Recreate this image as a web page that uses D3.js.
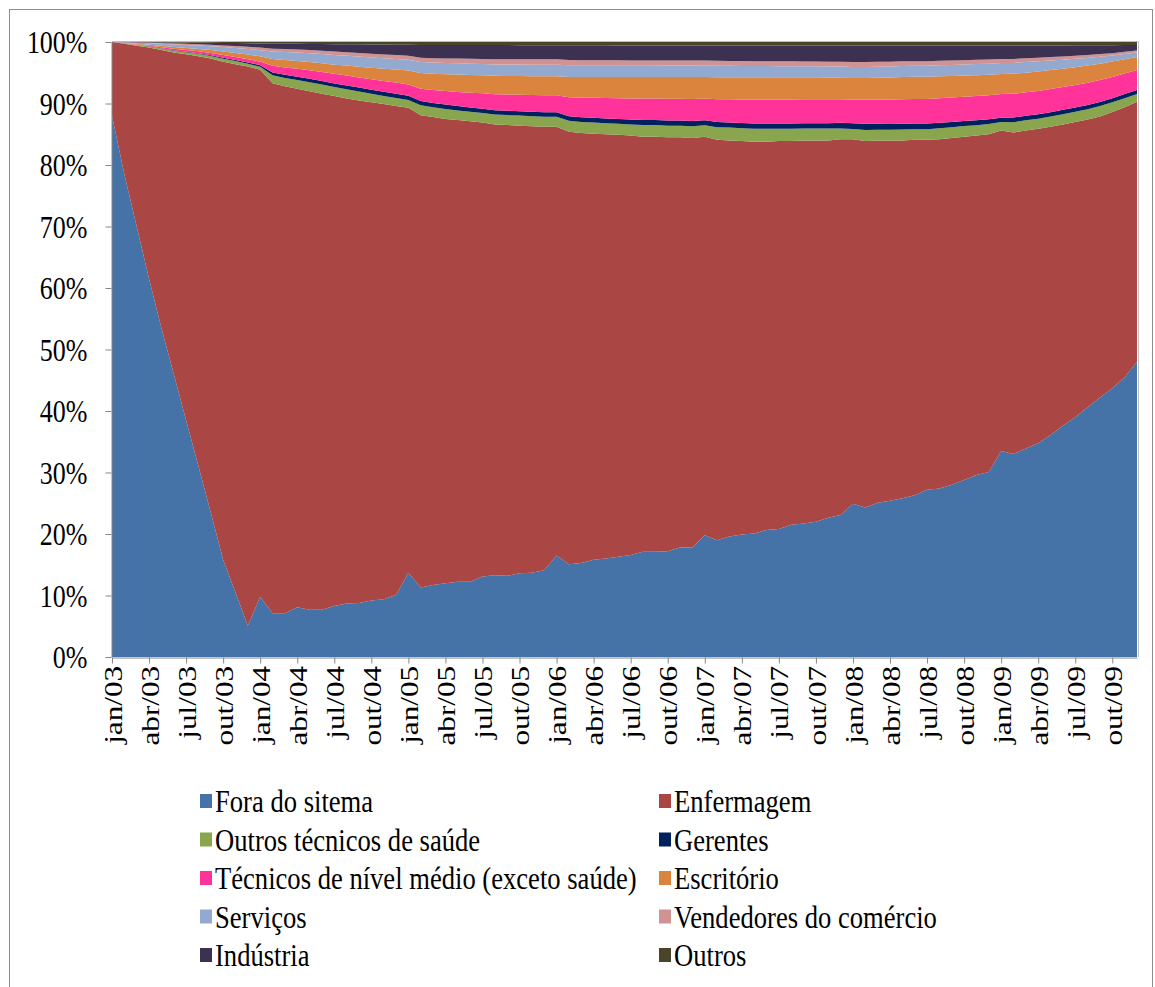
<!DOCTYPE html>
<html>
<head>
<meta charset="utf-8">
<script src="https://cdn.jsdelivr.net/npm/d3@7"></script>
<style>
  body { margin: 0; background: #fff; }
  text { font-family: "Liberation Serif", "Times New Roman", serif; font-size: 26px; fill: #000; }
</style>
</head>
<body>
<svg id="chart" width="1155" height="987"></svg>
<script>
// month labels
var monthNames = ["jan","fev","mar","abr","mai","jun","jul","ago","set","out","nov","dez"];
var years = ["03","04","05","06","07","08","09"];
var yTicks = [0, 0.1, 0.2, 0.3, 0.4, 0.5, 0.6, 0.7, 0.8, 0.9, 1];

// series (percent of total)
var fora = [88,78.5,70,61.5,53.5,46,38.5,31,23.5,15.8,10.5,5.1,
  9.8,7.1,7.1,8.1,7.7,7.7,8.3,8.7,8.8,9.2,9.4,10.1,
  13.7,11.3,11.7,12.0,12.25,12.25,13.1,13.3,13.2,13.6,13.7,14.1,
  16.5,15.1,15.3,15.8,16.0,16.3,16.6,17.1,17.1,17.2,17.8,17.8,
  19.8,19.0,19.6,19.9,20.1,20.65,20.8,21.5,21.7,22.0,22.65,23.1,
  24.9,24.3,25.1,25.4,25.8,26.3,27.2,27.4,28.0,28.8,29.6,30.1,
  33.5,33.0,33.9,34.75,36.1,37.6,39.0,40.6,42.2,43.7,45.5,48.0];
var enfermagem = [12.0,21.2,29.4,37.6,45.2,52.3,59.5,66.7,73.8,81.0,85.9,90.9,
  85.7,86.2,85.7,84.3,84.3,83.9,82.9,82.1,81.7,81.0,80.5,79.5,
  75.6,76.8,76.1,75.5,75.05,74.85,73.8,73.3,73.3,72.8,72.6,72.1,
  69.7,70.3,69.9,69.3,69.0,68.6,68.2,67.5,67.5,67.3,66.7,66.6,
  64.8,65.1,64.4,64.0,63.7,63.15,63.1,62.4,62.3,62.0,61.35,61.1,
  59.3,59.6,58.9,58.6,58.2,57.8,56.9,56.8,56.4,55.8,55.2,54.9,
  52.1,52.3,51.7,51.15,50.1,49.0,48.0,46.8,45.7,44.9,43.9,42.3];
var outrosTec = [0,.05,.1,.15,.23,.29,.33,.37,.43,.49,.51,.48,
  .48,1.29,1.36,1.43,1.46,1.47,1.47,1.52,1.45,1.38,1.33,1.31,
  1.25,1.6,1.6,1.62,1.58,1.55,1.55,1.6,1.61,1.63,1.64,1.65,
  1.65,1.8,1.8,1.8,1.8,1.8,1.8,1.9,1.9,1.9,1.9,1.92,
  1.85,2.05,2.08,2.06,2.08,2.08,1.99,1.99,1.93,1.93,1.92,1.75,
  1.65,1.8,1.74,1.75,1.79,1.73,1.73,1.79,1.75,1.73,1.68,1.65,
  1.4,1.67,1.67,1.63,1.67,1.67,1.66,1.68,1.68,1.59,1.47,1.25];
var gerentes = [0,.01,.03,.04,.06,.08,.1,.11,.13,.16,.18,.2,
  .24,.45,.5,.52,.55,.57,.6,.62,.64,.66,.68,.69,
  .7,.71,.7,.7,.7,.7,.7,.7,.7,.7,.7,.71,
  .71,.72,.75,.77,.78,.78,.8,.8,.8,.82,.82,.83,
  .82,.85,.85,.85,.86,.86,.86,.86,.87,.87,.88,.9,
  .95,1.0,.95,.92,.9,.9,.9,.88,.85,.82,.8,.78,
  .7,.75,.74,.72,.72,.7,.7,.68,.68,.67,.66,.65];
var tecnicos = [0,.04,.08,.12,.17,.22,.26,.3,.35,.42,.47,.52,
  .6,1.1,1.2,1.3,1.4,1.5,1.55,1.6,1.65,1.7,1.75,1.8,
  1.85,2.0,2.1,2.2,2.3,2.4,2.5,2.6,2.65,2.7,2.75,2.8,
  2.8,3.1,3.2,3.25,3.3,3.37,3.42,3.5,3.5,3.55,3.55,3.6,
  3.55,3.7,3.75,3.85,3.9,3.9,3.9,3.9,3.9,3.9,3.9,3.85,
  3.85,3.9,3.95,3.98,4.0,4.0,4.0,4.0,3.98,3.95,3.93,3.9,
  3.85,3.85,3.8,3.8,3.75,3.7,3.65,3.6,3.55,3.45,3.35,3.25];
var escritorio = [0,.05,.1,.15,.22,.29,.35,.4,.48,.57,.65,.75,
  .85,1.1,1.2,1.25,1.33,1.4,1.5,1.62,1.75,1.88,2.0,2.12,
  2.25,2.55,2.65,2.75,2.82,2.88,2.93,3.0,3.02,3.04,3.06,3.08,
  3.08,3.3,3.35,3.38,3.42,3.45,3.48,3.5,3.5,3.52,3.52,3.55,
  3.5,3.58,3.6,3.6,3.62,3.62,3.6,3.6,3.55,3.55,3.52,3.5,
  3.5,3.55,3.55,3.58,3.6,3.6,3.6,3.55,3.5,3.45,3.4,3.35,
  3.25,3.25,3.2,3.15,3.1,3.0,2.9,2.8,2.65,2.5,2.3,2.1];
var servicos = [0,.08,.15,.22,.32,.42,.48,.55,.63,.73,.82,.9,
  1.0,1.2,1.3,1.4,1.45,1.52,1.58,1.62,1.65,1.68,1.7,1.72,
  1.75,1.8,1.82,1.83,1.84,1.85,1.85,1.85,1.86,1.86,1.87,1.88,
  1.88,1.9,1.9,1.9,1.9,1.9,1.9,1.9,1.9,1.9,1.9,1.88,
  1.88,1.87,1.86,1.85,1.84,1.84,1.82,1.82,1.8,1.8,1.8,1.8,
  1.8,1.8,1.8,1.8,1.8,1.8,1.8,1.8,1.8,1.8,1.8,1.8,
  1.8,1.78,1.72,1.65,1.55,1.45,1.35,1.25,1.15,1.0,.88,.75];
var vendedores = [0,.03,.06,.09,.12,.15,.18,.2,.23,.28,.32,.38,
  .42,.48,.5,.5,.52,.53,.55,.56,.58,.6,.62,.63,
  .65,.67,.7,.73,.76,.8,.82,.85,.86,.86,.86,.86,
  .86,.85,.85,.84,.83,.82,.81,.8,.8,.8,.8,.8,
  .8,.8,.79,.79,.78,.78,.78,.78,.78,.78,.78,.78,
  .8,.8,.78,.77,.76,.75,.75,.73,.72,.7,.69,.67,
  .65,.65,.62,.6,.56,.53,.5,.46,.42,.38,.34,.3];
var industria = [0,.03,.06,.09,.13,.18,.22,.27,.33,.4,.47,.55,
  .65,.8,.85,.9,.98,1.08,1.2,1.3,1.4,1.5,1.6,1.7,
  1.8,2.1,2.15,2.18,2.2,2.22,2.25,2.3,2.3,2.3,2.3,2.3,
  2.3,2.4,2.42,2.42,2.43,2.43,2.44,2.45,2.45,2.46,2.46,2.47,
  2.45,2.5,2.52,2.55,2.57,2.57,2.6,2.6,2.62,2.62,2.65,2.67,
  2.7,2.7,2.68,2.65,2.6,2.57,2.57,2.5,2.45,2.4,2.35,2.3,
  2.2,2.2,2.1,2.0,1.9,1.8,1.7,1.6,1.45,1.3,1.1,.9];
var outros = [0,.01,.02,.04,.05,.07,.08,.1,.12,.15,.18,.22,
  .26,.28,.29,.3,.31,.33,.35,.36,.38,.4,.42,.43,
  .45,.47,.48,.49,.5,.5,.5,.5,.5,.51,.52,.52,
  .52,.53,.53,.54,.54,.55,.55,.55,.55,.55,.55,.55,
  .55,.55,.55,.55,.55,.55,.55,.55,.55,.55,.55,.55,
  .55,.55,.55,.55,.55,.55,.55,.55,.55,.55,.55,.55,
  .55,.55,.55,.55,.55,.55,.54,.53,.52,.51,.5,.5];

var seriesNames = ["Fora do sitema","Enfermagem","Outros técnicos de saúde","Gerentes",
  "Técnicos de nível médio (exceto saúde)","Escritório","Serviços","Vendedores do comércio",
  "Indústria","Outros"];
var seriesValues = [fora, enfermagem, outrosTec, gerentes, tecnicos, escritorio, servicos, vendedores, industria, outros];
var colors = ["#4572A7","#AA4643","#89A54E","#002060","#FF3399","#DB843D","#93A9CF","#D19392","#3D3151","#4A452A"];

var categories = [];
years.forEach(function (y) {
    monthNames.forEach(function (m) { categories.push(m + "/" + y); });
});

// build rows for d3.stack
var rows = categories.map(function (c, i) {
    var r = {cat: c, idx: i};
    seriesNames.forEach(function (n, k) { r[n] = seriesValues[k][i]; });
    return r;
});

var svg = d3.select("#chart");
// note: "top" is taken by window.top, so plot* names
var plotLeft = 112, plotRight = 1137, plotTop = 42, plotBottom = 657;
var textStretch = "scale(1,1.2)";

// outer frame
svg.append("rect")
    .attr("x", 9.5).attr("y", 9.5)
    .attr("width", 1143).attr("height", 1000)
    .attr("fill", "none").attr("stroke", "#8c8c8c").attr("stroke-width", 1);

var x = d3.scaleLinear().domain([0, categories.length - 1]).range([plotLeft, plotRight]);
var y = d3.scaleLinear().domain([0, 1]).range([plotBottom, plotTop]);

var stack = d3.stack().keys(seriesNames).offset(d3.stackOffsetExpand);
var layers = stack(rows);

var area = d3.area()
    .x(function (d) { return x(d.data.idx); })
    .y0(function (d) { return y(d[0]); })
    .y1(function (d) { return y(d[1]); });

svg.append("g")
    .selectAll("path")
    .data(layers)
    .enter()
    .append("path")
    .attr("d", area)
    .attr("fill", function (d, i) { return colors[i]; });

// plot area border (top / right)
svg.append("path")
    .attr("d", "M" + plotLeft + "," + (plotTop - 0.5) + "H" + (plotRight + 1.5) + "V" + plotBottom)
    .attr("fill", "none").attr("stroke", "#bdbdbd").attr("stroke-width", 1);

// y axis
var yAxis = svg.append("g")
    .attr("transform", "translate(" + (plotLeft - 0.5) + ",0)")
    .call(d3.axisLeft(y).tickValues(yTicks).tickFormat(d3.format(".0%")).tickSize(6).tickSizeOuter(0));
yAxis.select(".domain").attr("stroke", "#868686");
yAxis.selectAll(".tick line").attr("stroke", "#868686");
yAxis.selectAll(".tick text")
    .attr("x", -24).attr("dy", "0.34em")
    .attr("transform", textStretch)
    .style("font-size", "26px");

// x axis, a label every 3 months
var tickIdx = categories.map(function (c, i) { return i; }).filter(function (i) { return i % 3 === 0; });
var xAxis = svg.append("g")
    .attr("transform", "translate(0," + (plotBottom + 0.5) + ")")
    .call(d3.axisBottom(x).tickValues(tickIdx).tickFormat(function (i) { return categories[i]; })
        .tickSize(6).tickSizeOuter(0));
xAxis.select(".domain").attr("stroke", "#868686");
xAxis.selectAll(".tick line").attr("stroke", "#868686");
xAxis.selectAll(".tick text")
    .attr("x", -7).attr("y", 0).attr("dy", "0.35em")
    .style("text-anchor", "end")
    .attr("transform", textStretch + " rotate(-90)")
    .style("font-size", "26px");

// legend, two columns
var legendCols = [200, 659];
var legendRows = [801, 839.5, 878, 916.5, 955];
var legend = svg.append("g");
seriesNames.forEach(function (n, k) {
    var cx = legendCols[k % 2], cy = legendRows[Math.floor(k / 2)];
    legend.append("rect")
        .attr("x", cx).attr("y", cy - 7)
        .attr("width", 12).attr("height", 14)
        .attr("fill", colors[k]);
    legend.append("text")
        .attr("transform", "translate(" + (cx + 15) + "," + cy + ") " + textStretch)
        .attr("dy", "0.35em")
        .style("font-size", "26.6px")
        .text(n);
});
</script>
</body>
</html>
